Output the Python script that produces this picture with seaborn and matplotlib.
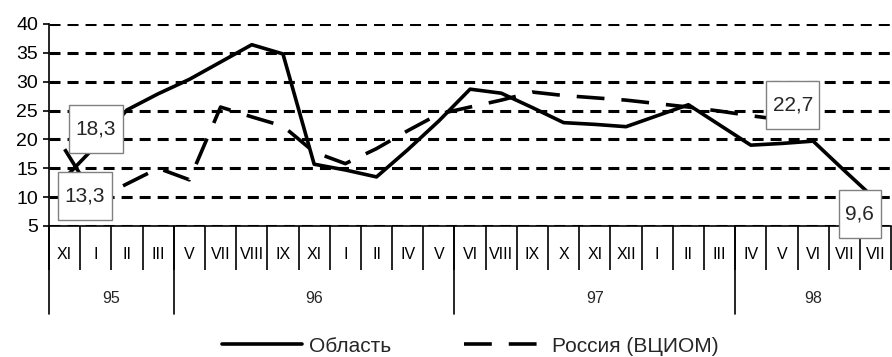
import numpy as np
import pandas as pd
import matplotlib
matplotlib.use('Agg')
import matplotlib.pyplot as plt
import matplotlib.transforms as mtransforms
from matplotlib.path import Path
import seaborn as sns

# month categories, grouped by year
months = ['XI', 'I', 'II', 'III',
          'V', 'VII', 'VIII', 'IX', 'XI', 'I', 'II', 'IV', 'V',
          'VI', 'VIII', 'IX', 'X', 'XI', 'XII', 'I', 'II', 'III',
          'IV', 'V', 'VI', 'VII', 'VII']
years = ['95', '96', '97', '98']
year_len = [4, 9, 9, 5]

oblast = [13.3, 18.9, 25.1, 27.9, 30.4, 33.4, 36.4, 34.8, 15.7, 14.7, 13.5, 18.2, 23.2,
          28.7, 28.0, 25.5, 22.9, 22.6, 22.2, 24.1, 26.0, 22.5, 19.0, 19.3, 19.7, 14.6, 9.6]
russia = [18.3, 9.6, 12.3, 15.0, 13.0, 25.6, 23.9, 22.3, 17.8, 15.8, 18.4, 21.5, 24.4,
          25.6, 26.8, 28.2, 27.6, 27.2, 26.8, 26.2, 25.6, 24.9, 24.1, 23.4, 22.7, np.nan, np.nan]

s_obl = 'Область'
s_rus = 'Россия (ВЦИОМ)'

sns.set_theme(style='white')
plt.rcParams['font.family'] = ['Liberation Sans', 'DejaVu Sans']

n = len(months)
df = pd.DataFrame({
    'pos': np.tile(np.arange(n), 2),
    'value': oblast + russia,
    'series': [s_obl] * n + [s_rus] * n,
})

fig = plt.figure(figsize=(8.92, 3.57), dpi=100)
ax = fig.add_axes([0.055, 0.367, 0.944, 0.566])

sns.lineplot(data=df, x='pos', y='value', style='series',
             dashes={s_obl: '', s_rus: (7.7, 4.7)}, color='black',
             linewidth=2.6, ax=ax, legend=False, zorder=3)

ax.set_xlim(-0.5, n - 0.5)
ax.set_ylim(5, 40)
ax.set_yticks(range(5, 41, 5))
ax.set_xlabel('')
ax.set_ylabel('')

# dashed horizontal grid
ax.yaxis.grid(True, color='black', linewidth=2.2, linestyle=(0, (3.6, 2.3)))
ax.xaxis.grid(False)
for side in ['top', 'right']:
    ax.spines[side].set_visible(False)
for side in ['left', 'bottom']:
    ax.spines[side].set_color('black')
    ax.spines[side].set_linewidth(1.2)

ax.tick_params(axis='y', which='major', left=True, length=4, width=1.2,
               color='black', labelsize=14, pad=4, labelcolor='black')

# months as labels in the middle, separators as minor ticks
ax.set_xticks(np.arange(n))
ax.set_xticklabels(months)
ax.set_xticks(np.arange(n + 1) - 0.5, minor=True)
ax.tick_params(axis='x', which='major', bottom=True, length=0, pad=15,
               labelsize=11.5, labelcolor='black')
ax.tick_params(axis='x', which='minor', bottom=True, length=32, width=1.2,
               color='black')

# year rows
trans = mtransforms.blended_transform_factory(ax.transData, ax.transAxes)
start = 0
for yr, k in zip(years, year_len):
    ax.plot([start - 0.5, start - 0.5], [0, -0.436], transform=trans,
            color='black', lw=1.2, clip_on=False)
    ax.text(start + (k - 1) / 2, -0.36, yr, transform=trans,
            ha='center', va='center', fontsize=11.5)
    start += k


# value boxes: wider vertical padding than horizontal
def tall_box(x0, y0, width, height, mutation_size):
    px, py = 0.31 * mutation_size, 0.7 * mutation_size
    x0, y0 = x0 - px, y0 - py
    x1, y1 = x0 + width + 2 * px, y0 + height + 2 * py
    return Path([(x0, y0), (x1, y0), (x1, y1), (x0, y1), (x0, y0)], closed=True)


def fmt(v):
    return f'{v:.1f}'.replace('.', ',')


box = dict(boxstyle=tall_box, fc='white', ec='#808080', lw=1)
ax.text(1.0, 21.8, fmt(russia[0]), ha='center', va='center', fontsize=15, bbox=box, zorder=5)
ax.text(0.65, 10.2, fmt(oblast[0]), ha='center', va='center', fontsize=15, bbox=box, zorder=5)
ax.text(23.35, 26.0, fmt(russia[24]), ha='center', va='center', fontsize=15, bbox=box, zorder=5)
ax.text(25.5, 7.1, fmt(oblast[-1]), ha='center', va='center', fontsize=15, bbox=box, zorder=5,
        clip_on=False)

handles = ax.lines[:2]
fig.legend(handles, [s_obl, s_rus], loc='center', bbox_to_anchor=(0.527, 0.03),
           ncol=2, frameon=False, fontsize=15, handlelength=3.85,
           handletextpad=0.35, columnspacing=3.5, borderaxespad=0)

fig.savefig('out.png', dpi=100)
